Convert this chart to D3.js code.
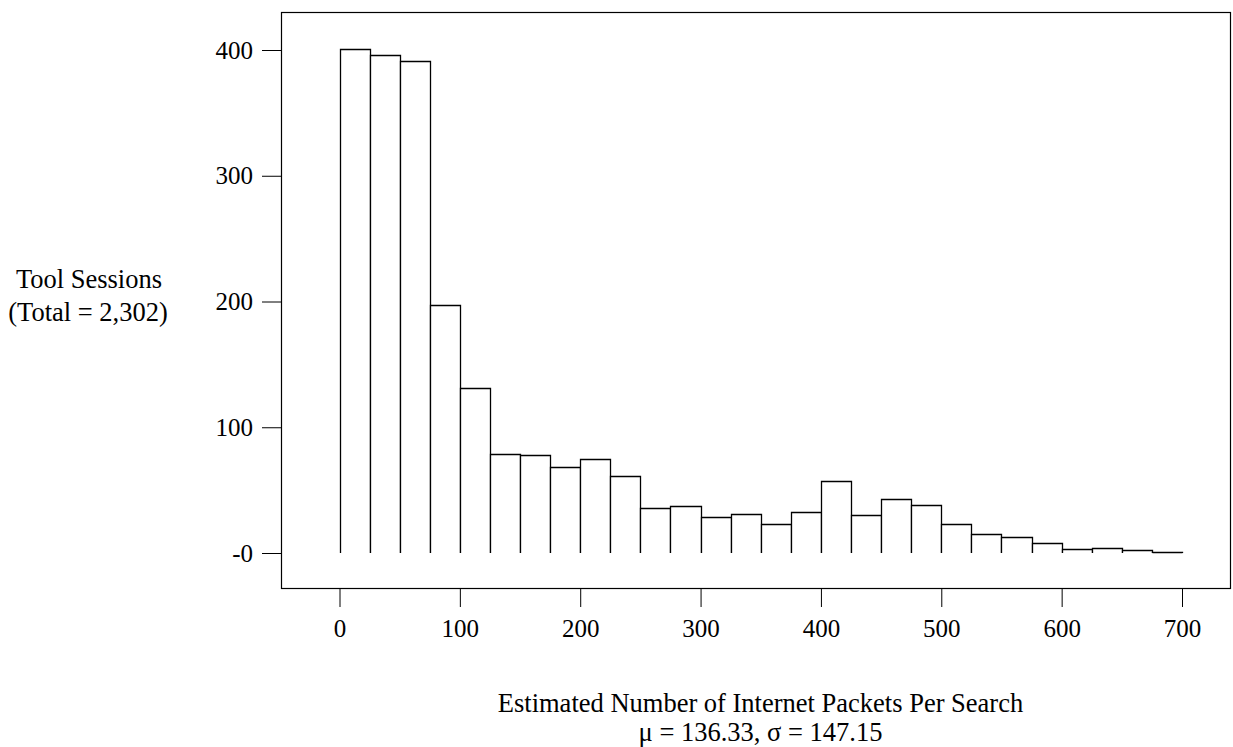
<!DOCTYPE html>
<html>
<head>
<meta charset="utf-8">
<style type="text/css">
	body { margin: 0; background: #fff; }
</style>
<title></title>
</head>
<body>
<div id="chart"></div>
<script src="https://d3js.org/d3.v7.min.js"></script>
<script type="text/javascript">
	// histogram bins (lower edge, packets) and session counts
	var binStarts = [0, 25, 50, 75, 100, 125, 150, 175, 200, 225, 250, 275, 300, 325,
		350, 375, 400, 425, 450, 475, 500, 525, 550, 575, 600, 625, 650, 675];
	var binWidth = 25;
	var counts = [401, 396, 391, 197, 131, 79, 78, 68, 75, 61, 36, 37, 29, 31,
		23, 33, 57, 30, 43, 38, 23, 15, 13, 8, 3, 4, 2, 1];
	var xTicks = [0, 100, 200, 300, 400, 500, 600, 700];
	var yTicks = [0, 100, 200, 300, 400];

	var width = 1233, height = 747;
	var frame = {left: 281, top: 12, right: 1230, bottom: 588};
	var fontFam = "'Liberation Serif', 'Times New Roman', serif";

	var svg = d3.select("#chart").append("svg")
		.attr("width", width)
		.attr("height", height);

	//value -> pixel
	var x = d3.scaleLinear().domain([0, 700]).range([339.5, 1182]);
	var y = d3.scaleLinear().domain([0, 400]).range([553, 50]);

	// box round the plot
	svg.append("rect")
		.attr("x", frame.left + 0.5)
		.attr("y", frame.top + 0.5)
		.attr("width", frame.right - frame.left)
		.attr("height", frame.bottom - frame.top)
		.style("fill", "none")
		.style("stroke", "#000")
		.style("stroke-width", 1.2);

	// bars, open at the bottom
	var data = binStarts.map(function(b, i){ return {x0: b, x1: b + binWidth, n: counts[i]}; });
	svg.selectAll(".bar")
		.data(data)
		.enter()
		.append("path")
		.attr("class", "bar")
		.attr("d", function(d){
			var l = Math.round(x(d.x0)) + 0.5, r = Math.round(x(d.x1)) + 0.5;
			var t = Math.round(y(d.n)) + 0.5, b = y(0);
			return "M" + l + "," + b + "V" + t + "H" + r + "V" + b;
		})
		.style("fill", "#fff")
		.style("stroke", "#000")
		.style("stroke-width", 1.3);

	//x axis under the box
	var xAxis = d3.axisBottom(x)
		.tickValues(xTicks)
		.tickSizeInner(19)
		.tickSizeOuter(0)
		.tickPadding(12);
	var gx = svg.append("g")
		.attr("transform", "translate(0," + frame.bottom + ")")
		.call(xAxis)
		.attr("font-family", fontFam)
		.attr("font-size", 25);
	gx.select(".domain").remove();

	//y axis left of the box
	var yAxis = d3.axisLeft(y)
		.tickValues(yTicks)
		.tickFormat(function(d){ return d === 0 ? "-0" : d; })
		.tickSizeInner(19)
		.tickSizeOuter(0)
		.tickPadding(9);
	var gy = svg.append("g")
		.attr("transform", "translate(" + frame.left + ",0)")
		.call(yAxis)
		.attr("font-family", fontFam)
		.attr("font-size", 25);
	gy.select(".domain").remove();

	// axis titles
	var titles = [
		{t: "Tool Sessions", x: 89, y: 288},
		{t: "(Total = 2,302)", x: 88, y: 321},
		{t: "Estimated Number of Internet Packets Per Search", x: 760.5, y: 712},
		{t: "\u03bc = 136.33, \u03c3 = 147.15", x: 760.5, y: 741}
	];
	svg.selectAll(".title")
		.data(titles)
		.enter()
		.append("text")
		.attr("class", "title")
		.attr("x", function(d){ return d.x; })
		.attr("y", function(d){ return d.y; })
		.attr("text-anchor", "middle")
		.attr("font-family", fontFam)
		.attr("font-size", 26.5)
		.text(function(d){ return d.t; });
</script>
</body>
</html>
